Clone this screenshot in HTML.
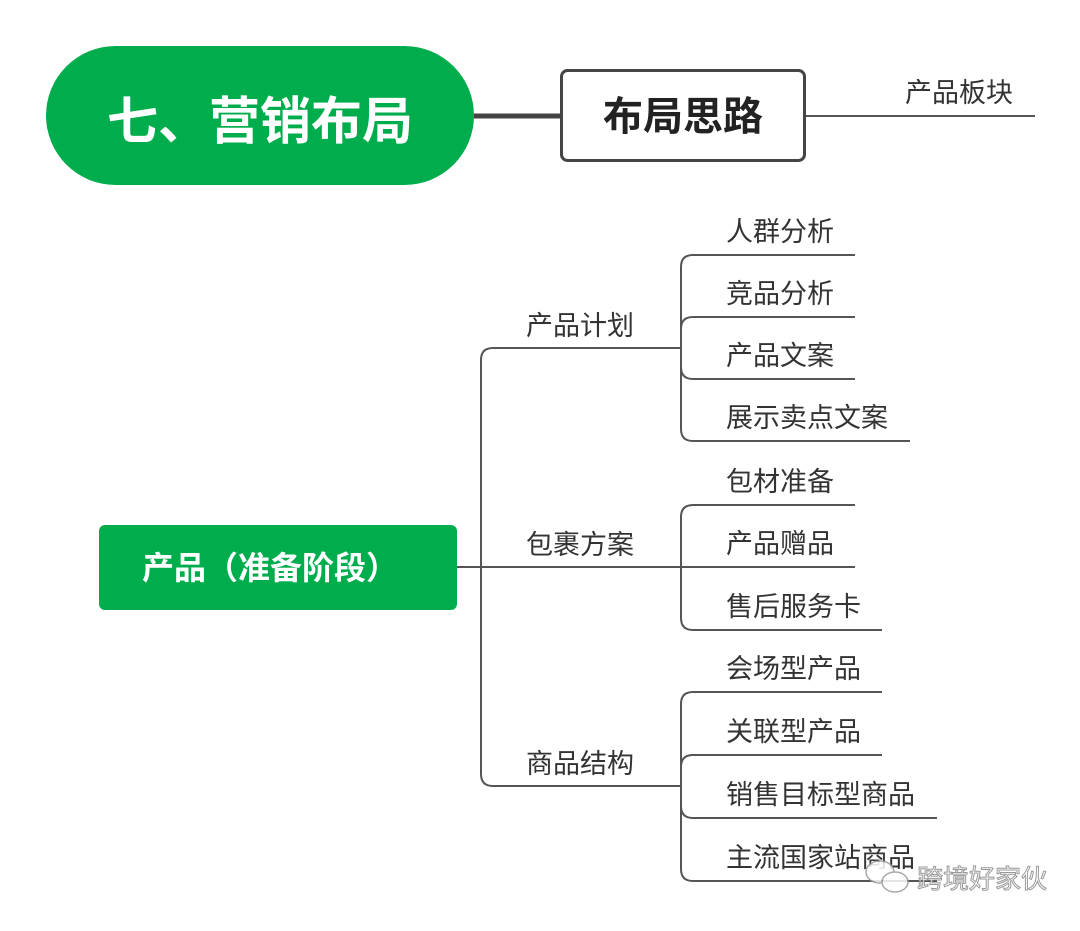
<!DOCTYPE html>
<html><head><meta charset="utf-8"><style>
body{margin:0;background:#fff;}
svg text{font-family:"Liberation Sans","Noto Sans CJK SC",sans-serif;}
</style></head><body>
<svg width="1080" height="926" viewBox="0 0 1080 926" xmlns="http://www.w3.org/2000/svg">
<rect x="46" y="46" width="428" height="139" rx="69.5" fill="#00ad4c"/>
<text x="260" y="139" font-size="51" font-weight="bold" fill="#fff" text-anchor="middle">七、营销布局</text>
<line x1="474" y1="116" x2="560" y2="116" stroke="#444" stroke-width="5"/>
<rect x="561.5" y="70.5" width="243" height="90" rx="6" fill="#fff" stroke="#444" stroke-width="3"/>
<text x="683" y="130" font-size="40" font-weight="bold" fill="#222" text-anchor="middle">布局思路</text>
<line x1="806" y1="116" x2="1035" y2="116" stroke="#555" stroke-width="2"/>
<text x="905" y="102" font-size="27" fill="#333">产品板块</text>

<rect x="99" y="525" width="358" height="85" rx="6" fill="#00ad4c"/>
<text x="270" y="579" font-size="32" font-weight="bold" fill="#fff" text-anchor="middle">产品（准备阶段）</text>

<g fill="none" stroke="#555" stroke-width="2">
<line x1="457" y1="567" x2="680" y2="567"/>
<path d="M680 348 H493 Q481 348 481 360 V774 Q481 786 493 786 H680"/>
<path d="M855 255 H693 Q681 255 681 267 V429 Q681 441 693 441 H910"/>
<path d="M855 317 H693 Q681 317 681 329"/>
<path d="M855 379 H693 Q681 379 681 367"/>
<path d="M855 505 H693 Q681 505 681 517 V618 Q681 630 693 630 H882"/>
<line x1="681" y1="567" x2="855" y2="567"/>
<path d="M882 692 H693 Q681 692 681 704 V869 Q681 881 693 881 H937"/>
<path d="M882 755 H693 Q681 755 681 767"/>
<path d="M937 818 H693 Q681 818 681 806"/>
</g>

<g font-size="27" fill="#333">
<text x="526" y="335">产品计划</text>
<text x="526" y="554">包裹方案</text>
<text x="526" y="773">商品结构</text>
<text x="726" y="241">人群分析</text>
<text x="726" y="303">竞品分析</text>
<text x="726" y="365">产品文案</text>
<text x="726" y="427">展示卖点文案</text>
<text x="726" y="491">包材准备</text>
<text x="726" y="553">产品赠品</text>
<text x="726" y="616">售后服务卡</text>
<text x="726" y="678">会场型产品</text>
<text x="726" y="741">关联型产品</text>
<text x="726" y="804">销售目标型商品</text>
<text x="726" y="867">主流国家站商品</text>
</g>
<g opacity="0.85">
<ellipse cx="880" cy="872" rx="14" ry="11" fill="#fff" stroke="#999" stroke-width="1.5"/>
<ellipse cx="895" cy="882" rx="13" ry="10" fill="#fff" stroke="#999" stroke-width="1.5"/>
<text x="917" y="888" font-size="26" fill="#fff" stroke="#888" stroke-width="1">跨境好家伙</text>
</g>
</svg>
</body></html>
